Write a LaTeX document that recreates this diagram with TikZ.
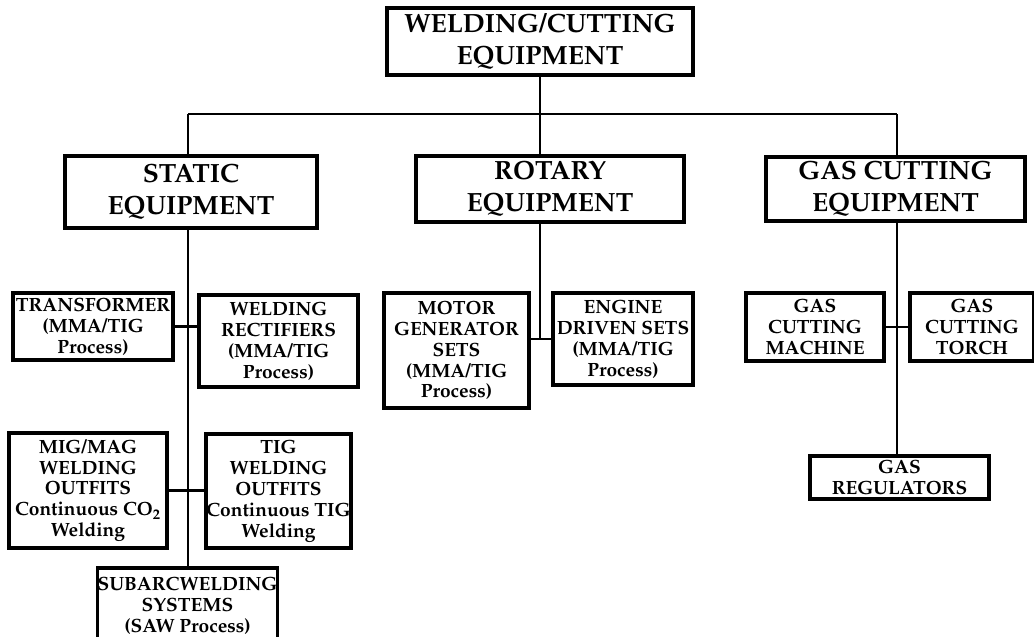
\documentclass[tikz,border=0pt]{standalone}
\usepackage[T1]{fontenc}
\usepackage{mathpazo}
\tikzset{
  bigbox/.style={draw,line width=1.8pt,align=center,inner sep=0pt,
    font=\fontsize{15}{18.2}\selectfont\bfseries},
  smallbox/.style={draw,line width=1.8pt,align=center,inner sep=0pt,
    font=\fontsize{10.9}{11.9}\selectfont\bfseries},
  link/.style={line width=1.6pt}
}
\begin{document}
\begin{tikzpicture}[x=0.2mm,y=-0.2mm]
\useasboundingbox (0,0) rectangle (1034,637);
\node(top) at (540,41.5)[bigbox,minimum width=61.2mm,minimum height=13.4mm] {WELDING/CUTTING\\EQUIPMENT};
\node(static) at (191,192)[bigbox,minimum width=50.4mm,minimum height=14.4mm] {STATIC\\EQUIPMENT};
\node(rotary) at (550,189)[bigbox,minimum width=53.6mm,minimum height=13.2mm] {ROTARY\\EQUIPMENT};
\node(gas) at (895.5,189)[bigbox,minimum width=51.8mm,minimum height=12.8mm] {GAS CUTTING\\EQUIPMENT};
\coordinate(busL) at (188,114);
\coordinate(busR) at (897,114);
% static branch
\node(trans) at (93,326.5)[smallbox,minimum width=32mm,minimum height=13.4mm] {TRANSFORMER\\(MMA/TIG\\Process)};
\node(rect) at (278.5,341)[smallbox,minimum width=31.8mm,minimum height=18.4mm] {WELDING\\RECTIFIERS\\(MMA/TIG\\Process)};
\node(mig) at (88,490.5)[smallbox,minimum width=31.6mm,minimum height=23mm] {MIG/MAG\\WELDING\\OUTFITS\\Continuous CO\textsubscript{2}\\Welding};
\node(tig) at (278.5,491)[smallbox,minimum width=29mm,minimum height=22.8mm] {TIG\\WELDING\\OUTFITS\\Continuous TIG\\Welding};
\node(subarc) at (187.5,606)[smallbox,minimum width=35.8mm,minimum height=15.2mm] {SUBARCWELDING\\SYSTEMS\\(SAW Process)};
% rotary branch
\node(motor) at (456.5,350.5)[smallbox,minimum width=29mm,minimum height=23mm] {MOTOR\\GENERATOR\\SETS\\(MMA/TIG\\Process)};
\node(engine) at (623,339)[smallbox,minimum width=28mm,minimum height=18.4mm] {ENGINE\\DRIVEN SETS\\(MMA/TIG\\Process)};
% gas branch
\node(machine) at (815,327)[smallbox,minimum width=27.6mm,minimum height=13.6mm] {GAS\\CUTTING\\MACHINE};
\node(torch) at (972,327)[smallbox,minimum width=24.8mm,minimum height=13.6mm] {GAS\\CUTTING\\TORCH};
\node(reg) at (899.5,477.5)[smallbox,minimum width=35.8mm,minimum height=8.6mm] {GAS\\REGULATORS};
\path [link]
  (busL)                 edge  (busR)
  (top.south)            edge  (top.south |- busL)
  (busL)                 edge  (busL |- static.north)
  (top.south |- busL)    edge  (top.south |- rotary.north)
  (busR)                 edge  (busR |- gas.north)
  (busL |- static.south) edge  (busL |- subarc.north)
  (trans.east)           edge  (trans.east -| rect.west)
  (mig.east)             edge  (mig.east -| tig.west)
  (top.south |- rotary.south) edge (top.south |- engine.west)
  (engine.west -| motor.east) edge (engine.west)
  (busR |- gas.south)    edge  (busR |- reg.north)
  (machine.east)         edge  (torch.west);
\end{tikzpicture}
\end{document}
